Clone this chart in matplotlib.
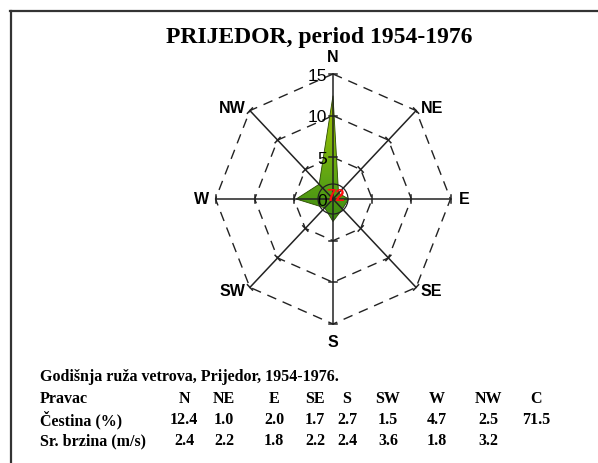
import numpy as np
import matplotlib
matplotlib.use("Agg")
import matplotlib.pyplot as plt
from matplotlib.colors import LinearSegmentedColormap
from matplotlib.patches import Polygon, Ellipse

# data
smerovi = ['N', 'NE', 'E', 'SE', 'S', 'SW', 'W', 'NW']
cestina = [12.4, 1.0, 2.0, 1.7, 2.7, 1.5, 4.7, 2.5]
brzina = [2.4, 2.2, 1.8, 2.2, 2.4, 3.6, 1.8, 3.2]
tisina = 71.5
tisina_label = '72'
prstenovi = [5, 10, 15]
naslov = 'PRIJEDOR, period 1954-1976'
podnaslov = 'Godišnja ruža vetrova, Prijedor, 1954-1976.'

W, H = 598, 464
fig = plt.figure(figsize=(W / 100, H / 100), dpi=100)

# frame lines (left and top only, picture is cropped)
fig.add_artist(plt.Line2D([10.5 / W, 10.5 / W], [0, 1 - 11.5 / H], color='#333333', lw=1.6))
fig.add_artist(plt.Line2D([10 / W, 1], [1 - 11.5 / H, 1 - 11.5 / H], color='#333333', lw=1.6))

# rose axes: center at (333,200) px, 15 units = 117.5 px horiz, 125 px vert
cx, cy = 333, 200
sx, sy = 117.5 / 15, 125 / 15   # px per unit
ax = fig.add_axes([(cx - 150) / W, (H - cy - 150) / H, 300 / W, 300 / H])
xr = 150 / sx
yr = 150 / sy
ax.set_xlim(-xr, xr)
ax.set_ylim(-yr, yr)
ax.axis('off')

ang = np.pi / 2 - np.arange(8) * np.pi / 4
ux, uy = np.cos(ang), np.sin(ang)
rmax = prstenovi[-1]

# dashed octagons
for r in prstenovi:
    xs = np.append(r * ux, r * ux[0])
    ys = np.append(r * uy, r * uy[0])
    ax.plot(xs, ys, color='#222222', lw=1.0, ls=(0, (7, 5)), zorder=1)

# data polygon with gradient
vals = np.array(cestina)
pts = np.column_stack([vals * ux, vals * uy])
poly = Polygon(pts, closed=True, facecolor='none', edgecolor='#2a4a00', lw=0.6, zorder=3)
ax.add_patch(poly)
cmap = LinearSegmentedColormap.from_list('g', ['#3a8810', '#5ea414', '#86b808', '#a0bc00'])
grad = np.linspace(0, 1, 256).reshape(-1, 1)
im = ax.imshow(grad, extent=[-xr, xr, -3, 13], origin='lower', cmap=cmap,
               aspect='auto', zorder=2)
im.set_clip_path(poly)

# spokes and ticks
for i in range(8):
    ax.plot([0, rmax * ux[i]], [0, rmax * uy[i]], color='#222222', lw=1.1, zorder=4)
    px, py = -uy[i], ux[i]
    for r in prstenovi:
        t = 0.45
        ax.plot([r * ux[i] - t * px, r * ux[i] + t * px],
                [r * uy[i] - t * py, r * uy[i] + t * py], color='#222222', lw=1.1, zorder=4)

# calm circle
ax.add_patch(Ellipse((0, 0), 2 * 15 / sx, 2 * 15 / sy, facecolor='none',
                     edgecolor='#222222', lw=0.9, zorder=5))
ax.text(0.3, 0.45, tisina_label, color='#ff1010', fontsize=12, fontweight='bold',
        family='Liberation Sans', ha='center', va='center', zorder=6)

# radial labels
for r in [0] + prstenovi:
    ax.text(-0.75, r - 0.15, str(r), fontsize=12.5, family='Liberation Sans',
            ha='right', va='center', zorder=6)

# direction labels
lf = dict(fontsize=11.5, fontweight='bold', family='Liberation Sans', va='center')
for i, s in enumerate(smerovi):
    tx, ty = rmax * ux[i], rmax * uy[i]
    if i in (0, 4):
        ax.text(tx, ty + np.sign(uy[i]) * 2.1, s, ha='center', **lf)
    elif i in (2, 6):
        ax.text(tx + np.sign(ux[i]) * 1.75, ty, s, ha='center', **lf)
    else:
        ha = 'left' if ux[i] > 0 else 'right'
        ax.text(tx + np.sign(ux[i]) * 0.6, ty + np.sign(uy[i]) * 0.35, s, ha=ha, **lf)

# title
fig.text(319 / W, 1 - 38 / H, naslov, fontsize=17, fontweight='bold',
         family='Liberation Serif', ha='center', va='center')

# table
tf = dict(fontsize=11.5, fontweight='bold', family='Liberation Serif', va='center')
fig.text(40 / W, 1 - 377 / H, podnaslov, ha='left', **tf)
rows_y = [399, 420, 441]
fig.text(40 / W, 1 - rows_y[0] / H, 'Pravac', ha='left', **tf)
fig.text(40 / W, 1 - rows_y[1] / H, 'Čestina (%)', ha='left', **tf)
fig.text(40 / W, 1 - rows_y[2] / H, 'Sr. brzina (m/s)', ha='left', **tf)
kol_x = [184, 224, 274, 315, 347, 388, 437, 488, 536]
zaglavlje = smerovi + ['C']
cest_txt = ['%.1f' % v for v in cestina] + ['%.1f' % tisina]
brz_txt = ['%.1f' % v for v in brzina]
for j, x in enumerate(kol_x):
    fig.text(x / W, 1 - rows_y[0] / H, zaglavlje[j], ha='center', **tf)
    fig.text(x / W, 1 - rows_y[1] / H, cest_txt[j], ha='center', **tf)
    if j < len(brz_txt):
        fig.text(x / W, 1 - rows_y[2] / H, brz_txt[j], ha='center', **tf)

fig.savefig('out.png', dpi=100)
